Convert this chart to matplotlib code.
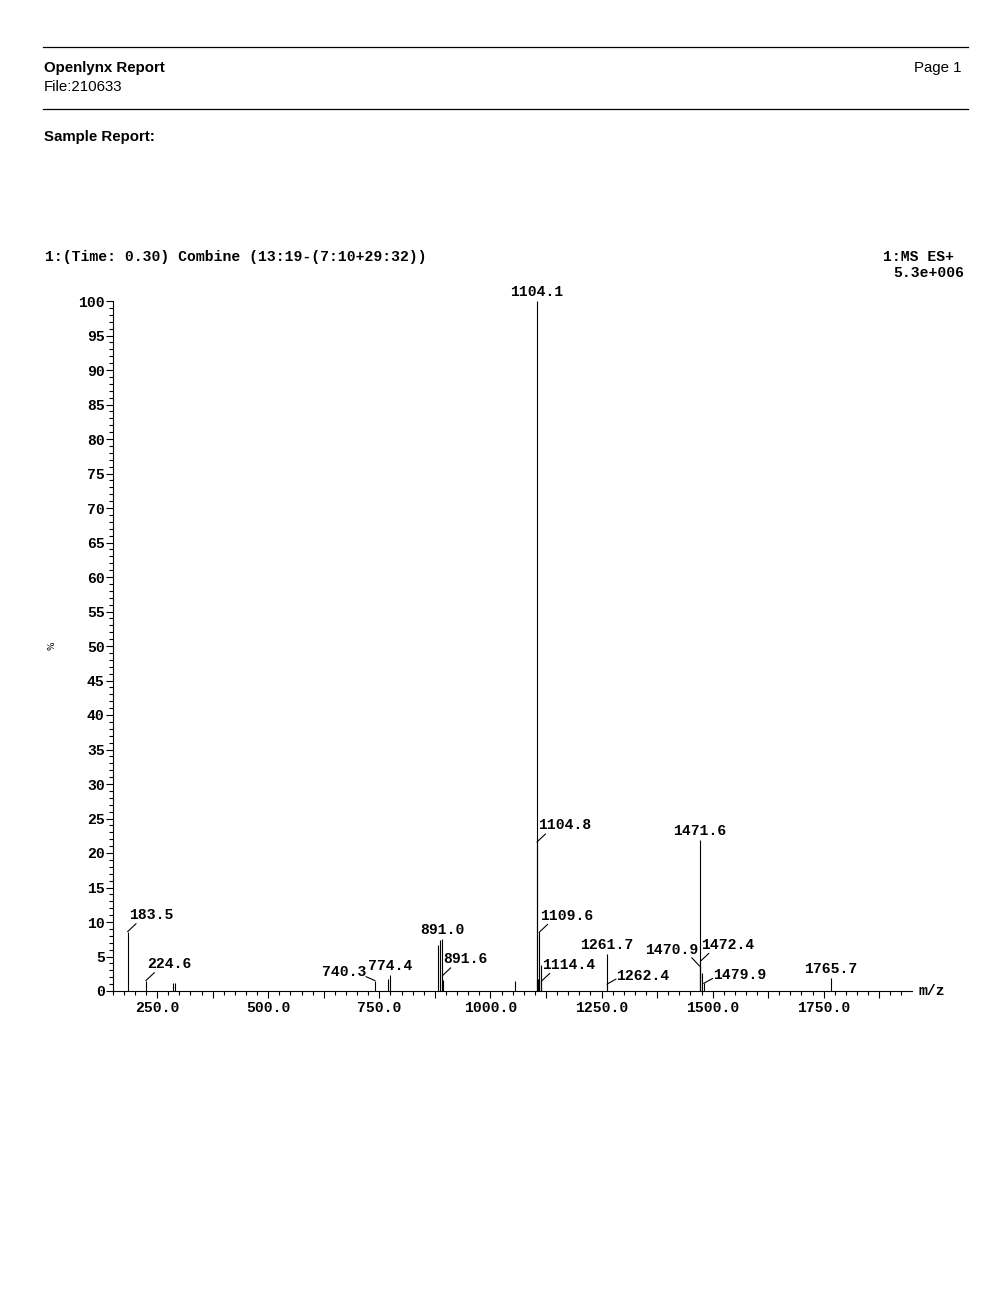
#!/usr/bin/env python
import matplotlib
matplotlib.use('Agg')
import matplotlib.pyplot as plt
from matplotlib import font_manager
from matplotlib.lines import Line2D
from matplotlib.ticker import MultipleLocator, FuncFormatter

# peak list (m/z, relative intensity %)
mz = [183.5, 224.6, 285.6, 291.0, 740.3, 769.5, 774.4, 882.0, 886.0, 891.0,
      891.6, 892.4, 1055.0, 1104.1, 1104.8, 1105.6, 1106.3, 1109.6, 1110.4,
      1113.3, 1114.4, 1261.7, 1262.4, 1470.9, 1471.6, 1472.4, 1477.2, 1479.9,
      1765.7]
pct = [8.6, 1.5, 1.2, 1.2, 1.5, 1.7, 2.3, 6.7, 7.4, 7.6,
       2.2, 1.6, 1.5, 100.0, 21.6, 1.8, 1.8, 8.5, 1.6,
       3.7, 1.4, 5.4, 1.0, 3.6, 21.9, 4.3, 2.6, 1.1,
       1.9]
# labelled peaks and where the label sits
lab_mz = [183.5, 224.6, 740.3, 774.4, 891.0, 891.6, 1104.1, 1104.8, 1109.6,
          1114.4, 1261.7, 1262.4, 1470.9, 1471.6, 1472.4, 1479.9, 1765.7]
lab_side = ['ur', 'ur', 'l', 'up', 'up', 'ur', 'up', 'ur', 'ur',
            'ur', 'up', 'r', 'ul', 'up', 'ur', 'r', 'up']

title = '1:(Time: 0.30) Combine (13:19-(7:10+29:32))'
scan_info = '1:MS ES+'
base_int = '5.3e+006'

W, H = 1004, 1308
def px(x, y):
    return x / W, 1 - y / H

try:
    font_manager.findfont('Liberation Sans Narrow', fallback_to_default=False)
    head_font, head_size = ['Liberation Sans Narrow', 'Liberation Sans'], 13.2
except Exception:
    head_font, head_size = ['Liberation Sans'], 10.8
mono = dict(family='Liberation Mono', weight='bold', size=10.6)

fig = plt.figure(figsize=(W / 100, H / 100), dpi=100)
fig.patch.set_facecolor('white')

# report header
for yy in (47, 109):
    fig.add_artist(Line2D([43 / W, 968 / W], [1 - yy / H] * 2, color='black', lw=0.9))
fig.text(*px(44, 68), 'Openlynx Report', family=head_font, weight='bold', size=head_size, va='center')
fig.text(*px(44, 87), 'File:210633', family=head_font, size=head_size, va='center')
fig.text(*px(962, 68), 'Page 1', family=head_font, size=head_size, va='center', ha='right')
fig.text(*px(44, 137), 'Sample Report:', family=head_font, weight='bold', size=head_size, va='center')

fig.text(*px(45, 257), title, va='center', **mono)
fig.text(*px(883, 257), scan_info, va='center', **mono)
fig.text(*px(964, 273), base_int, va='center', ha='right', **mono)
fig.text(*px(52, 646), '%', rotation=90, size=6.5, va='center', ha='center')

ax = fig.add_axes([112.7 / W, 1 - 991 / H, (911.7 - 112.7) / W, (991 - 301) / H])
ax.vlines(mz, 0, pct, color='black', lw=0.8)
ax.set_xlim(150, 1948)
ax.set_ylim(0, 100)
for s in ('top', 'right'):
    ax.spines[s].set_visible(False)
for s in ('left', 'bottom'):
    ax.spines[s].set_linewidth(0.8)

ax.yaxis.set_major_locator(MultipleLocator(5))
ax.yaxis.set_minor_locator(MultipleLocator(1))
ax.yaxis.set_major_formatter(FuncFormatter(lambda v, p: '%d' % v))
ax.xaxis.set_major_locator(MultipleLocator(125))
ax.xaxis.set_minor_locator(MultipleLocator(25))
ax.xaxis.set_major_formatter(FuncFormatter(lambda v, p: '%.1f' % v if v % 250 == 0 else ''))
ax.tick_params(which='major', direction='out', length=5.0, width=0.8, colors='black')
ax.tick_params(which='minor', direction='out', length=2.9, width=0.8)
ax.tick_params(axis='y', which='major', pad=0.8)
ax.tick_params(axis='x', which='major', pad=2.2)
for t in ax.get_xticklabels() + ax.get_yticklabels():
    t.set_fontfamily('Liberation Mono')
    t.set_fontweight('bold')
    t.set_fontsize(10.6)

ax.annotate('m/z', xy=(1, 0), xycoords='axes fraction', xytext=(7, 0),
            textcoords='offset pixels', va='center', ha='left', **mono)

# leader end (dx, dy) and text anchor (tx, ty, ha) in pixels
styles = {
    'up': (None, (0, 5, 'center')),
    'ur': ((8.5, 8), (1, 12.5, 'left')),
    'r': ((9, 5), (9.5, 4.5, 'left')),
    'ul': ((-8, 8.5), (-1, 12, 'right')),
    'l': ((-9, 4), (-9, 5, 'right')),
}
for m, side in zip(lab_mz, lab_side):
    h = pct[mz.index(m)]
    lead, (tx, ty, ha) = styles[side]
    if lead is not None:
        ax.annotate('', xy=(m, h), xytext=lead, textcoords='offset pixels',
                    arrowprops=dict(arrowstyle='-', shrinkA=0, shrinkB=0, lw=0.8, color='black'))
    ax.annotate('%.1f' % m, xy=(m, h), xytext=(tx, ty), textcoords='offset pixels',
                ha=ha, va='baseline', **mono)

fig.savefig('out.png', dpi=100, facecolor='white')
